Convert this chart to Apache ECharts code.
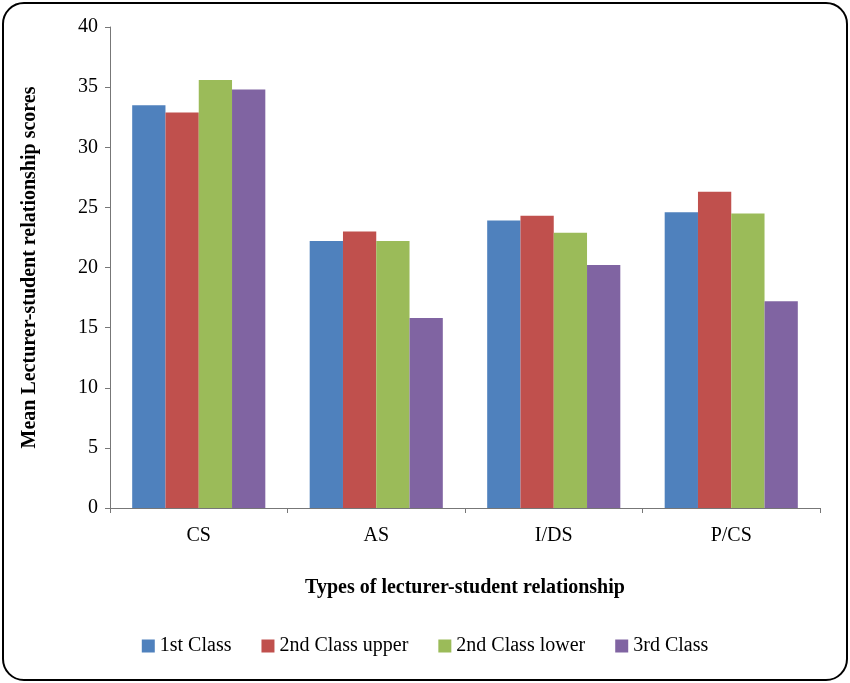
<!DOCTYPE html>
<html>
<head>
<meta charset="utf-8">
<script src="https://cdn.jsdelivr.net/npm/echarts@6/dist/echarts.min.js"></script>
<style>
  html, body { margin: 0; padding: 0; background: #fff; }
  #frame { position: absolute; left: 2px; top: 2px; width: 842px; height: 675px; border: 2px solid #000; border-radius: 22px; }
  #chart { position: absolute; left: 0; top: 0; width: 850px; height: 683px; }
</style>
</head>
<body>
<div id="frame"></div>
<div id="chart"></div>
<script>
const categories = ['CS', 'AS', 'I/DS', 'P/CS'];
const seriesNames = ['1st Class', '2nd Class upper', '2nd Class lower', '3rd Class'];
const firstClass = [33.5, 22.2, 23.9, 24.6];
const secondUpper = [32.9, 23.0, 24.3, 26.3];
const secondLower = [35.6, 22.2, 22.9, 24.5];
const thirdClass = [34.8, 15.8, 20.2, 17.2];
const colors = ['#4F81BD', '#C0504D', '#9BBB59', '#8064A2'];

const font = 'Liberation Serif';
let myChart = echarts.init(document.getElementById('chart'));

const option = {
  color: colors,
  textStyle: { fontFamily: font },
  legend: {
    bottom: 22,
    left: 'center',
    itemWidth: 13,
    itemHeight: 13,
    itemGap: 30,
    icon: 'rect',
    textStyle: { fontFamily: font, fontSize: 20, color: '#000' },
    data: seriesNames
  },
  grid: { left: 110, right: 30, top: 27, bottom: 175 },
  xAxis: {
    type: 'category',
    data: categories,
    name: 'Types of lecturer-student relationship',
    nameLocation: 'middle',
    nameGap: 70,
    nameTextStyle: { fontFamily: font, fontSize: 20, fontWeight: 'bold', color: '#000' },
    axisLine: { lineStyle: { color: '#777' } },
    axisTick: { show: true, lineStyle: { color: '#777' } },
    axisLabel: { fontFamily: font, fontSize: 20, color: '#000', margin: 18 }
  },
  yAxis: {
    type: 'value',
    min: 0,
    max: 40,
    interval: 5,
    name: 'Mean Lecturer-student relationship scores',
    nameLocation: 'middle',
    nameGap: 70,
    nameTextStyle: { fontFamily: font, fontSize: 20, fontWeight: 'bold', color: '#000' },
    axisLine: { show: true, lineStyle: { color: '#777' } },
    axisTick: { show: true, inside: false, lineStyle: { color: '#777' } },
    splitLine: { show: false },
    axisLabel: { fontFamily: font, fontSize: 20, color: '#000', margin: 12 }
  },
  series: [firstClass, secondUpper, secondLower, thirdClass].map((d, i) => ({
    name: seriesNames[i],
    type: 'bar',
    data: d,
    barGap: '0%',
    barCategoryGap: '25%'
  }))
};

myChart.setOption(option);
</script>
</body>
</html>
